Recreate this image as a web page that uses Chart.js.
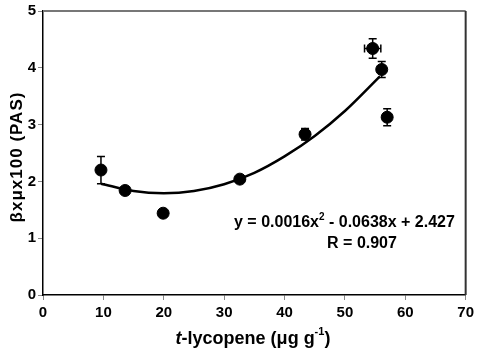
<!DOCTYPE html>
<html>
<head>
<meta charset="utf-8">
<script src="https://cdn.jsdelivr.net/npm/chart.js@4"></script>
<style>
  html, body { margin: 0; padding: 0; background: #fff; }
  #wrap { width: 478px; height: 350px; }
</style>
</head>
<body>
<div id="wrap"><canvas id="pasChart" width="478" height="350"></canvas></div>
<script>
// measured points
const lycopene = [9.6, 13.6, 19.9, 32.6, 43.4, 54.6, 56.1, 57.0];
const pas = [2.20, 1.84, 1.44, 2.04, 2.83, 4.34, 3.97, 3.13];
const pasErr = [0.24, 0.04, 0, 0.05, 0.10, 0.17, 0.14, 0.15];
const lycErr = [0, 0.6, 0, 0, 0, 1.35, 0, 0];

// fitted curve
const fitX = [9.6, 15, 20, 25, 30, 35, 40, 45, 50, 55.8];
const fitY = [1.96, 1.83, 1.79, 1.83, 1.95, 2.15, 2.44, 2.80, 3.24, 3.85];

const xTicks = [0, 10, 20, 30, 40, 50, 60, 70];
const yTicks = [0, 1, 2, 3, 4, 5];

const FONT = '"Liberation Sans", Arial, sans-serif';

const extras = {
    id: 'extras',
    afterDatasetsDraw(chart) {
        const ctx = chart.ctx;
        const xs = chart.scales.x, ys = chart.scales.y;
        const area = chart.chartArea;
        ctx.save();
        // error bars
        ctx.strokeStyle = '#000';
        ctx.lineWidth = 1.5;
        lycopene.forEach((lx, i) => {
            const px = xs.getPixelForValue(lx);
            const py = ys.getPixelForValue(pas[i]);
            if (pasErr[i] > 0) {
                const top = ys.getPixelForValue(pas[i] + pasErr[i]);
                const bot = ys.getPixelForValue(pas[i] - pasErr[i]);
                ctx.beginPath();
                ctx.moveTo(px, top); ctx.lineTo(px, bot);
                ctx.moveTo(px - 4, top); ctx.lineTo(px + 4, top);
                ctx.moveTo(px - 4, bot); ctx.lineTo(px + 4, bot);
                ctx.stroke();
            }
            if (lycErr[i] > 0) {
                const l = xs.getPixelForValue(lx - lycErr[i]);
                const r = xs.getPixelForValue(lx + lycErr[i]);
                ctx.beginPath();
                ctx.moveTo(l, py); ctx.lineTo(r, py);
                ctx.moveTo(l, py - 4); ctx.lineTo(l, py + 4);
                ctx.moveTo(r, py - 4); ctx.lineTo(r, py + 4);
                ctx.stroke();
            }
        });
        // top and right frame
        ctx.strokeStyle = '#777';
        ctx.lineWidth = 2;
        ctx.beginPath();
        ctx.moveTo(area.left, area.top);
        ctx.lineTo(area.right, area.top);
        ctx.stroke();
        ctx.strokeStyle = '#333';
        ctx.beginPath();
        ctx.moveTo(area.right, area.top);
        ctx.lineTo(area.right, area.bottom);
        ctx.stroke();

        // equation
        ctx.fillStyle = '#000';
        ctx.textBaseline = 'middle';
        ctx.textAlign = 'left';
        const eq1 = 'y = 0.0016x';
        const eq2 = ' - 0.0638x + 2.427';
        ctx.font = 'bold 16px ' + FONT;
        const w1 = ctx.measureText(eq1).width, w2 = ctx.measureText(eq2).width;
        ctx.font = 'bold 10px ' + FONT;
        const ws = ctx.measureText('2').width;
        let ex = 234;
        const ey = 223;
        ctx.font = 'bold 16px ' + FONT;
        ctx.fillText(eq1, ex, ey);
        ex += w1;
        ctx.font = 'bold 10px ' + FONT;
        ctx.fillText('2', ex, ey - 6);
        ex += ws;
        ctx.font = 'bold 16px ' + FONT;
        ctx.fillText(eq2, ex, ey);
        ctx.textAlign = 'center';
        ctx.fillText('R = 0.907', 362, 244);
        ctx.textAlign = 'left';

        // x title
        const t = 't';
        const rest = '-lycopene (\u03bcg g';
        ctx.font = 'bold 18px ' + FONT;
        const wRest = ctx.measureText(rest).width;
        const wClose = ctx.measureText(')').width;
        ctx.font = 'bold 11px ' + FONT;
        const wSup = ctx.measureText('-1').width;
        ctx.font = 'italic bold 18px ' + FONT;
        const wT = ctx.measureText(t).width;
        let tx = 253 - (wT + wRest + wSup + wClose) / 2;
        const ty = 339;
        ctx.fillText(t, tx, ty);
        tx += wT;
        ctx.font = 'bold 18px ' + FONT;
        ctx.fillText(rest, tx, ty);
        tx += wRest;
        ctx.font = 'bold 11px ' + FONT;
        ctx.fillText('-1', tx, ty - 7);
        tx += wSup;
        ctx.font = 'bold 18px ' + FONT;
        ctx.fillText(')', tx, ty);

        // y title
        ctx.translate(17, 157);
        ctx.rotate(-Math.PI / 2);
        ctx.textAlign = 'center';
        ctx.font = 'bold 17px ' + FONT;
        ctx.letterSpacing = '1px';
        ctx.fillText('\u03b2x\u03bcx100 (PAS)', 0, 0);
        ctx.restore();
    }
};

new Chart(document.getElementById('pasChart'), {
    data: {
        datasets: [
            {
                type: 'line',
                data: fitX.map((x, i) => ({ x: x, y: fitY[i] })),
                borderColor: '#000',
                borderWidth: 2.5,
                pointRadius: 0,
                cubicInterpolationMode: 'monotone',
                fill: false,
                order: 2
            },
            {
                type: 'scatter',
                data: lycopene.map((x, i) => ({ x: x, y: pas[i] })),
                backgroundColor: '#000',
                borderColor: '#000',
                pointRadius: 6,
                pointHoverRadius: 6,
                order: 1
            }
        ]
    },
    options: {
        responsive: false,
        animation: false,
        layout: { padding: { top: 11, right: 12, left: 0, bottom: 0 } },
        plugins: { legend: { display: false }, tooltip: { enabled: false } },
        scales: {
            x: {
                type: 'linear',
                min: 0, max: 70,
                afterBuildTicks: axis => { axis.ticks = xTicks.map(v => ({ value: v })); },
                afterFit: axis => { axis.height = 55; },
                grid: { drawOnChartArea: false, color: '#888', tickLength: 5 },
                border: { color: '#000', width: 1.5 },
                ticks: { color: '#000', font: { family: FONT, size: 15, weight: 'bold' }, padding: 4, maxRotation: 0 }
            },
            y: {
                type: 'linear',
                min: 0, max: 5,
                afterBuildTicks: axis => { axis.ticks = yTicks.map(v => ({ value: v })); },
                afterFit: axis => { axis.width = 43; },
                grid: { drawOnChartArea: false, color: '#888', tickLength: 5 },
                border: { color: '#000', width: 1.5 },
                ticks: { color: '#000', font: { family: FONT, size: 15, weight: 'bold' }, padding: 2 }
            }
        }
    },
    plugins: [extras]
});
</script>
</body>
</html>
